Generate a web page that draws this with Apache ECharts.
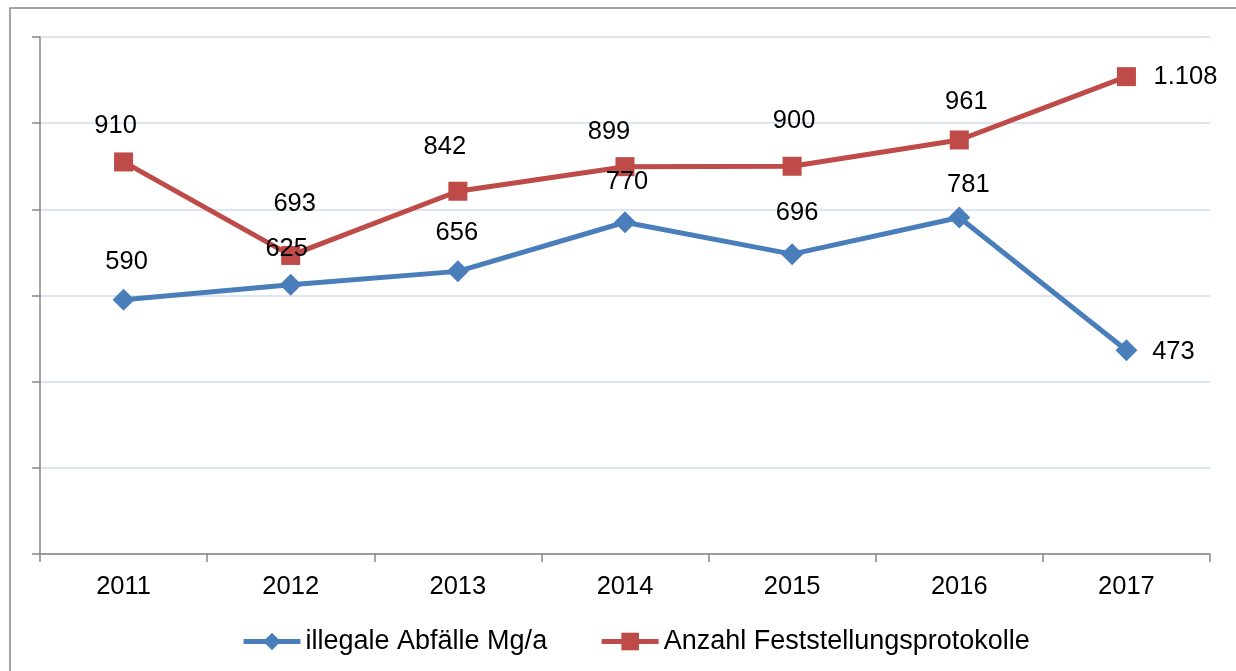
<!DOCTYPE html>
<html>
<head>
<meta charset="utf-8">
<script src="https://cdn.jsdelivr.net/npm/echarts@6/dist/echarts.min.js"></script>
<style>
html,body{margin:0;padding:0;background:#fff;}
#chart{width:1236px;height:671px;}
</style>
</head>
<body>
<div id="chart"></div>
<script>
// ---- data ----
const years = ['2011','2012','2013','2014','2015','2016','2017'];
const illegaleAbfaelle = [590, 625, 656, 770, 696, 781, 473];
const feststellungsprotokolle = [910, 693, 842, 899, 900, 961, 1108];
const seriesNames = ['illegale Abfälle Mg/a', 'Anzahl Feststellungsprotokolle'];

// ---- label layout (pixel offsets from each marker) ----
const blueLabelOffsets = [[3,-38],[-4,-36],[-1,-38],[2,-40],[5,-41],[9,-33],[47,2]];
const redLabelOffsets  = [[-8,-36],[4,-51],[-13,-44],[-16,-35],[2,-45],[7,-38],[59,0]];

const FONT = 'Liberation Sans, Arial, sans-serif';
const fmt = v => String(v).replace(/\B(?=(\d{3})+(?!\d))/g, '.');

function buildData(values, offsets) {
  return values.map((v, i) => ({
    value: v,
    label: { offset: offsets[i] }
  }));
}

const labelBase = {
  show: true,
  position: 'inside',
  align: 'center',
  verticalAlign: 'middle',
  color: '#000',
  fontSize: 25.5,
  fontFamily: FONT,
  formatter: p => fmt(p.value)
};

const chart = echarts.init(document.getElementById('chart'), null, {renderer: 'canvas'});
chart.setOption({
  animation: false,
  backgroundColor: '#fff',
  graphic: [{
    type: 'rect',
    shape: { x: 10, y: 8, width: 1260, height: 720 },
    style: { fill: 'none', stroke: '#868686', lineWidth: 1.5 },
    silent: true, z: -1
  }],
  grid: { left: 40, right: 26, top: 37, bottom: 117, containLabel: false },
  legend: {
    left: 236,
    top: 623,
    itemWidth: 57,
    itemHeight: 22,
    itemGap: 52,
    lineStyle: { width: 5 },
    textStyle: { fontSize: 27, fontFamily: FONT, color: '#000' },
    data: seriesNames
  },
  xAxis: {
    type: 'category',
    data: years,
    boundaryGap: true,
    axisLine: { show: true, lineStyle: { color: '#868686', width: 1.5 } },
    axisTick: { show: true, length: 8, lineStyle: { color: '#868686', width: 1.5 } },
    axisLabel: { fontSize: 25.5, fontFamily: FONT, color: '#000', margin: 20 },
    splitLine: { show: false }
  },
  yAxis: {
    type: 'value',
    min: 0, max: 1200, interval: 200,
    axisLine: { show: true, lineStyle: { color: '#868686', width: 1.5 } },
    axisTick: { show: true, length: 8, lineStyle: { color: '#868686', width: 1.5 } },
    axisLabel: { show: false },
    splitLine: { show: true, lineStyle: { color: '#dce5f1', width: 2 } }
  },
  series: [
    {
      name: seriesNames[0],
      type: 'line',
      data: buildData(illegaleAbfaelle, blueLabelOffsets),
      symbol: 'diamond',
      symbolSize: 22,
      showAllSymbol: true,
      color: '#4a7ebb',
      lineStyle: { color: '#4a7ebb', width: 5 },
      itemStyle: { color: '#4a7ebb' },
      label: labelBase,
      z: 3
    },
    {
      name: seriesNames[1],
      type: 'line',
      data: buildData(feststellungsprotokolle, redLabelOffsets),
      symbol: 'rect',
      symbolSize: 19,
      showAllSymbol: true,
      color: '#be4b48',
      lineStyle: { color: '#be4b48', width: 5 },
      itemStyle: { color: '#be4b48' },
      label: labelBase,
      z: 2
    }
  ]
});
</script>
</body>
</html>
